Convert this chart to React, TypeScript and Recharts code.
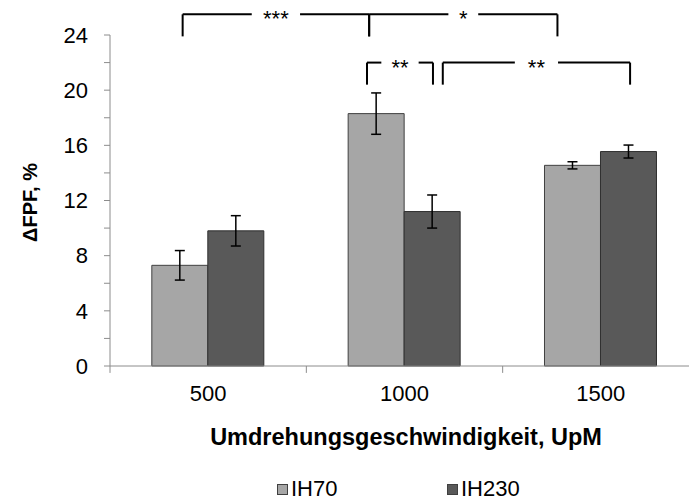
import {
  Bar,
  BarChart,
  ErrorBar,
  Legend,
  ReferenceDot,
  ReferenceLine,
  XAxis,
  YAxis,
} from "recharts";

const FONT = "'Liberation Sans', Arial, sans-serif";
const AXIS = "#8c8c8c";

const categories = ["500", "1000", "1500"];
const seriesNames = ["IH70", "IH230"];
const ih70 = [7.3, 18.3, 14.55];
const ih70Err = [1.07, 1.5, 0.26];
const ih230 = [9.8, 11.2, 15.55];
const ih230Err = [1.1, 1.2, 0.47];
const yTicks = [0, 2, 4, 6, 8, 10, 12, 14, 16, 18, 20, 22, 24];

// significance brackets: x in category units (0..3), y in %
const bracketFrom = [0.37, 1.32, 1.309, 1.695];
const bracketTo = [1.32, 2.279, 1.645, 2.649];
const bracketLevel = [25.5, 25.5, 22.0, 22.0];
const bracketStars = ["***", "*", "**", "**"];
const bracketGap = [0.123, 0.076, 0.095, 0.11];
const BRACKET_DROP = 1.6;
const boundaries = [0, 1, 2, 3];

const data = categories.map((c, i) => ({
  rpm: c,
  center: i + 0.5,
  ih70: ih70[i],
  ih70Err: ih70Err[i],
  ih230: ih230[i],
  ih230Err: ih230Err[i],
}));

const renderLegend = (props: any) => {
  const items = [...(props.payload || [])].sort(
    (a: any, b: any) => seriesNames.indexOf(a.value) - seriesNames.indexOf(b.value)
  );
  return (
    <div
      style={{
        display: "flex",
        paddingLeft: 277,
        fontFamily: FONT,
        fontSize: 22,
        color: "#000",
        lineHeight: "24px",
      }}
    >
      {items.map((e: any) => (
        <div key={e.value} style={{ display: "flex", alignItems: "center", width: 170 }}>
          <span
            style={{
              width: 9,
              height: 9,
              background: e.color,
              border: "1px solid #404040",
              marginRight: 3,
            }}
          />
          <span>{e.value}</span>
        </div>
      ))}
    </div>
  );
};

function brackets() {
  const out: any[] = [];
  bracketFrom.forEach((from, i) => {
    const to = bracketTo[i];
    const y = bracketLevel[i];
    const mid = (from + to) / 2;
    const gap = bracketGap[i];
    const line = { stroke: "#000", strokeWidth: 2, ifOverflow: "visible" as const, xAxisId: "pos" };
    out.push(
      <ReferenceLine key={`l${i}`} {...line} segment={[{ x: from, y: y - BRACKET_DROP }, { x: from, y }]} />,
      <ReferenceLine key={`r${i}`} {...line} segment={[{ x: to, y: y - BRACKET_DROP }, { x: to, y }]} />,
      <ReferenceLine key={`a${i}`} {...line} segment={[{ x: from, y }, { x: mid - gap, y }]} />,
      <ReferenceLine key={`b${i}`} {...line} segment={[{ x: mid + gap, y }, { x: to, y }]} />,
      <ReferenceDot
        key={`t${i}`}
        xAxisId="pos"
        x={mid}
        y={y}
        r={0}
        ifOverflow="visible"
        label={(p: any) => (
          <text
            x={p.viewBox.x}
            y={p.viewBox.y + 12}
            textAnchor="middle"
            fontFamily={FONT}
            fontSize={22}
            fill="#000"
          >
            {bracketStars[i]}
          </text>
        )}
      />
    );
  });
  return out;
}

export default function App() {
  return (
    <div
      style={{
        position: "fixed",
        left: 0,
        top: 0,
        width: 689,
        height: 500,
        overflow: "hidden",
        background: "#fff",
      }}
    >
      <BarChart
        width={720}
        height={500}
        data={data}
        margin={{ top: 35, right: 21, left: 0, bottom: 0 }}
        barCategoryGap="21.3%"
        barGap={0}
      >
        <XAxis
          dataKey="rpm"
          height={134}
          axisLine={{ stroke: AXIS }}
          tickLine={false}
          tickSize={6}
          tickMargin={13}
          tick={{ fontSize: 22, fill: "#000", fontFamily: FONT }}
          label={(p: any) => (
            <text
              x={p.viewBox.x + 296}
              y={p.viewBox.y + 79}
              textAnchor="middle"
              fontFamily={FONT}
              fontSize={23.5}
              fontWeight="bold"
              fill="#000"
            >
              Umdrehungsgeschwindigkeit, UpM
            </text>
          )}
        />
        <XAxis
          xAxisId="pos"
          dataKey="center"
          type="number"
          domain={[0, 3]}
          allowDataOverflow
          hide
        />
        <YAxis
          width={110}
          domain={[0, 24]}
          ticks={yTicks}
          interval={0}
          axisLine={{ stroke: AXIS }}
          tickLine={{ stroke: AXIS }}
          tickSize={6}
          tickMargin={16}
          tickFormatter={(v: number) => (v % 4 === 0 ? String(v) : "")}
          tick={{ fontSize: 22, fill: "#000", fontFamily: FONT }}
          label={(p: any) => (
            <text
              x={p.viewBox.x + 30}
              y={p.viewBox.y + p.viewBox.height / 2 + 2}
              transform={`rotate(-90 ${p.viewBox.x + 30} ${p.viewBox.y + p.viewBox.height / 2 + 2})`}
              textAnchor="middle"
              dominantBaseline="central"
              fontFamily={FONT}
              fontSize={20}
              fontWeight="bold"
              fill="#000"
            >
              ΔFPF, %
            </text>
          )}
        />
        <Legend
          layout="horizontal"
          verticalAlign="middle"
          align="center"
          wrapperStyle={{ left: 0, top: 477, width: 720, height: 24 }}
          content={renderLegend}
        />
        <Bar dataKey="ih70" name="IH70" fill="#a6a6a6" stroke="#404040" strokeWidth={1} isAnimationActive={false}>
          <ErrorBar dataKey="ih70Err" width={5} stroke="#000" strokeWidth={1.5} direction="y" isAnimationActive={false} />
        </Bar>
        <Bar dataKey="ih230" name="IH230" fill="#595959" stroke="#303030" strokeWidth={1} isAnimationActive={false}>
          <ErrorBar dataKey="ih230Err" width={5} stroke="#000" strokeWidth={1.5} direction="y" isAnimationActive={false} />
        </Bar>
        {boundaries.map((b) => (
          <ReferenceLine
            key={`tick${b}`}
            xAxisId="pos"
            ifOverflow="visible"
            stroke={AXIS}
            segment={[{ x: b, y: 0 }, { x: b, y: -0.5 }]}
          />
        ))}
        {brackets()}
      </BarChart>
    </div>
  );
}
